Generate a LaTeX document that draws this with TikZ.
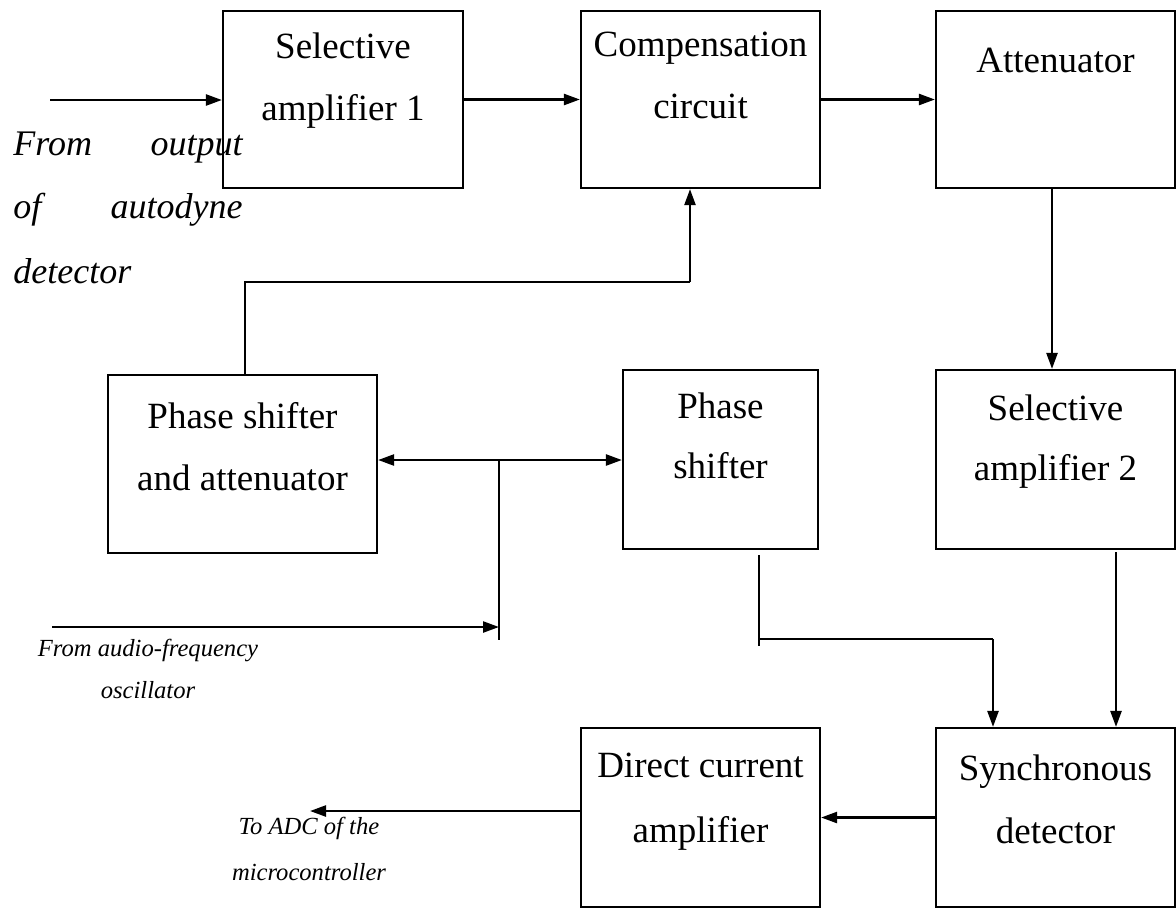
\documentclass[tikz,border=0pt]{standalone}
\usepackage{fontspec}
\setmainfont{Liberation Serif}
\usetikzlibrary{arrows.meta}
\begin{document}
\begin{tikzpicture}[x=0.5pt,y=-0.5pt,
  box/.style={draw,line width=1.1pt,inner sep=0pt},
  arr/.style={line width=1.2pt,-{Triangle[length=8pt,width=5.5pt]}},
  arrs/.style={line width=1.2pt,{Triangle[length=8pt,width=5.5pt]}-{Triangle[length=8pt,width=5.5pt]}},
  wire/.style={line width=1.1pt},
  txt/.style={font=\fontsize{18.5}{22}\selectfont,inner sep=0pt,anchor=base},
  itxt/.style={font=\fontsize{18}{22}\selectfont\itshape,inner sep=0pt},
  stxt/.style={font=\fontsize{12.3}{14}\selectfont\itshape,inner sep=0pt,anchor=base}]
\useasboundingbox (0,0) rectangle (1176,912);
% boxes
\node[box,minimum width=120pt,minimum height=88.5pt] (b1) at (343,99.5) {};
\node[box,minimum width=119.5pt,minimum height=88.5pt] (b2) at (700.5,99.5) {};
\node[box,minimum width=119.5pt,minimum height=88.5pt] (b3) at (1055.5,99.5) {};
\node[box,minimum width=134.5pt,minimum height=89pt] (b4) at (242.5,464) {};
\node[box,minimum width=97.5pt,minimum height=89.5pt] (b5) at (720.5,459.5) {};
\node[box,minimum width=119.5pt,minimum height=89.5pt] (b6) at (1055.5,459.5) {};
\node[box,minimum width=119.5pt,minimum height=89.5pt] (b7) at (700.5,817.5) {};
\node[box,minimum width=119.5pt,minimum height=89.5pt] (b8) at (1055.5,817.5) {};
% box texts
\node[txt] (t1a) at (343,58) {Selective};
\node[txt] (t1b) at (343,120) {amplifier 1};
\node[txt] (t2a) at (700.5,56) {Compensation};
\node[txt] (t2b) at (700.5,118) {circuit};
\node[txt] (t3a) at (1055.5,72) {Attenuator};
\node[txt] (t4a) at (242.5,428) {Phase shifter};
\node[txt] (t4b) at (242.5,490) {and attenuator};
\node[txt] (t5a) at (720.5,418) {Phase};
\node[txt] (t5b) at (720.5,478) {shifter};
\node[txt] (t6a) at (1055.5,420) {Selective};
\node[txt] (t6b) at (1055.5,480) {amplifier 2};
\node[txt] (t7a) at (700.5,777) {Direct current};
\node[txt] (t7b) at (700.5,842) {amplifier};
\node[txt] (t8a) at (1055.5,780) {Synchronous};
\node[txt] (t8b) at (1055.5,843) {detector};
% left labels
\node[itxt,anchor=base west] (l1a) at (13,155) {From};
\node[itxt,anchor=base east] (l1b) at (243,155) {output};
\node[itxt,anchor=base west] (l2a) at (13,218) {of};
\node[itxt,anchor=base east] (l2b) at (243,218) {autodyne};
\node[itxt,anchor=base west] (l3a) at (13,283) {detector};
\node[stxt] (s1a) at (148,656) {From audio-frequency};
\node[stxt] (s1b) at (148,698) {oscillator};
\node[stxt] (s2a) at (309,834) {To ADC of the};
\node[stxt] (s2b) at (309,880) {microcontroller};
% coordinates
\coordinate (in1) at (50,100);
\coordinate (j0) at (245,282);
\coordinate (j1) at (690,282);
\coordinate (j2) at (499,460);
\coordinate (j3) at (499,640);
\coordinate (in2) at (52,627);
\coordinate (p1) at (759,555);
\coordinate (p2) at (759,646);
\coordinate (p3) at (993,639);
\coordinate (q1) at (1116,552);
\coordinate (r1) at (1052,188);
\coordinate (out) at (310,811);
% connectors
\draw[arr] (in1) -- (in1 -| b1.west);
\draw[arr] (b1.east) -- (b2.west);
\draw[arr] (b2.east) -- (b3.west);
\draw[arr] (r1) -- (r1 |- b6.north);
\draw[wire] (j0 |- b4.north) -- (j0) -- (j1);
\draw[arr] (j1) -- (j1 |- b2.south);
\draw[arrs] (j2 -| b4.east) -- (j2 -| b5.west);
\draw[wire] (j2) -- (j3);
\draw[arr] (in2) -- (in2 -| j2);
\draw[wire] (p1) -- (p2);
\draw[wire] (p1 |- p3) -- (p3);
\draw[arr] (p3) -- (p3 |- b8.north);
\draw[arr] (q1) -- (q1 |- b8.north);
\draw[arr] (b8.west) -- (b7.east);
\draw[arr] (b7.west |- out) -- (out);
\end{tikzpicture}
\end{document}
